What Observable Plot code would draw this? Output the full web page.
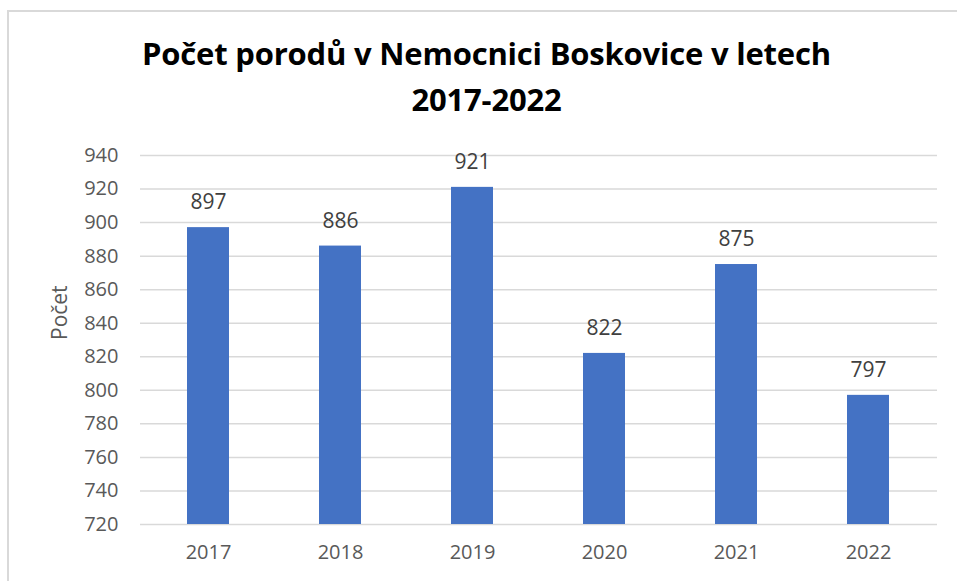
<!DOCTYPE html>
<html>
<head>
<meta charset="utf-8">
<script src="https://cdn.jsdelivr.net/npm/d3@7"></script>
<script src="https://cdn.jsdelivr.net/npm/@observablehq/plot@0.6"></script>
<style>
  html, body { margin: 0; padding: 0; background: #fff; }
  #wrap { position: relative; width: 957px; height: 581px; overflow: hidden; font-family: "Open Sans", "Noto Sans", sans-serif; }
  #frame { position: absolute; left: 7px; top: 10px; width: 1000px; height: 700px; border-left: 2px solid #d9d9d9; border-top: 2px solid #d9d9d9; box-sizing: border-box; }
  #title { position: absolute; left: 0; top: 30px; width: 973px; text-align: center; font-weight: 700; font-size: 31px; line-height: 46px; color: #000; letter-spacing: -0.2px; }
  #chart { position: absolute; left: 0; top: 130px; }
</style>
</head>
<body>
<div id="wrap">
  <div id="frame"></div>
  <div id="title">Počet porodů v Nemocnici Boskovice v letech<br>2017-2022</div>
  <div id="chart"></div>
</div>
<script>
const years = ["2017", "2018", "2019", "2020", "2021", "2022"];
const counts = [897, 886, 921, 822, 875, 797];
const yTicks = [720, 740, 760, 780, 800, 820, 840, 860, 880, 900, 920, 940];

const data = years.map((y, i) => ({year: y, count: counts[i]}));

const plot = Plot.plot({
  width: 957,
  height: 451,
  marginLeft: 140,
  marginRight: 20,
  marginTop: 25,
  marginBottom: 57,
  style: {fontFamily: "'Open Sans', 'Noto Sans', sans-serif", fontSize: "20px", color: "#595959", background: "transparent"},
  x: {domain: years, paddingInner: 0.68, paddingOuter: 0.34, label: null},
  y: {domain: [720, 940], label: null},
  marks: [
    Plot.gridY(yTicks, {stroke: "#d9d9d9", strokeOpacity: 1, strokeWidth: 1.5}),
    Plot.barY(data, {x: "year", y1: 720, y2: "count", fill: "#4472C4"}),
    Plot.text(data, {x: "year", y: "count", text: d => String(d.count), dy: -25, fill: "#404040", fontSize: 21}),
    Plot.axisX({tickSize: 0, tickPadding: 20, fontSize: 20, fill: "#595959"}),
    Plot.axisY(yTicks, {tickSize: 0, tickPadding: 22, fontSize: 20, fill: "#595959"}),
    Plot.text(["Počet"], {frameAnchor: "left", dx: -80, rotate: -90, fill: "#595959", fontSize: 21})
  ]
});
document.getElementById("chart").appendChild(plot);
</script>
</body>
</html>
